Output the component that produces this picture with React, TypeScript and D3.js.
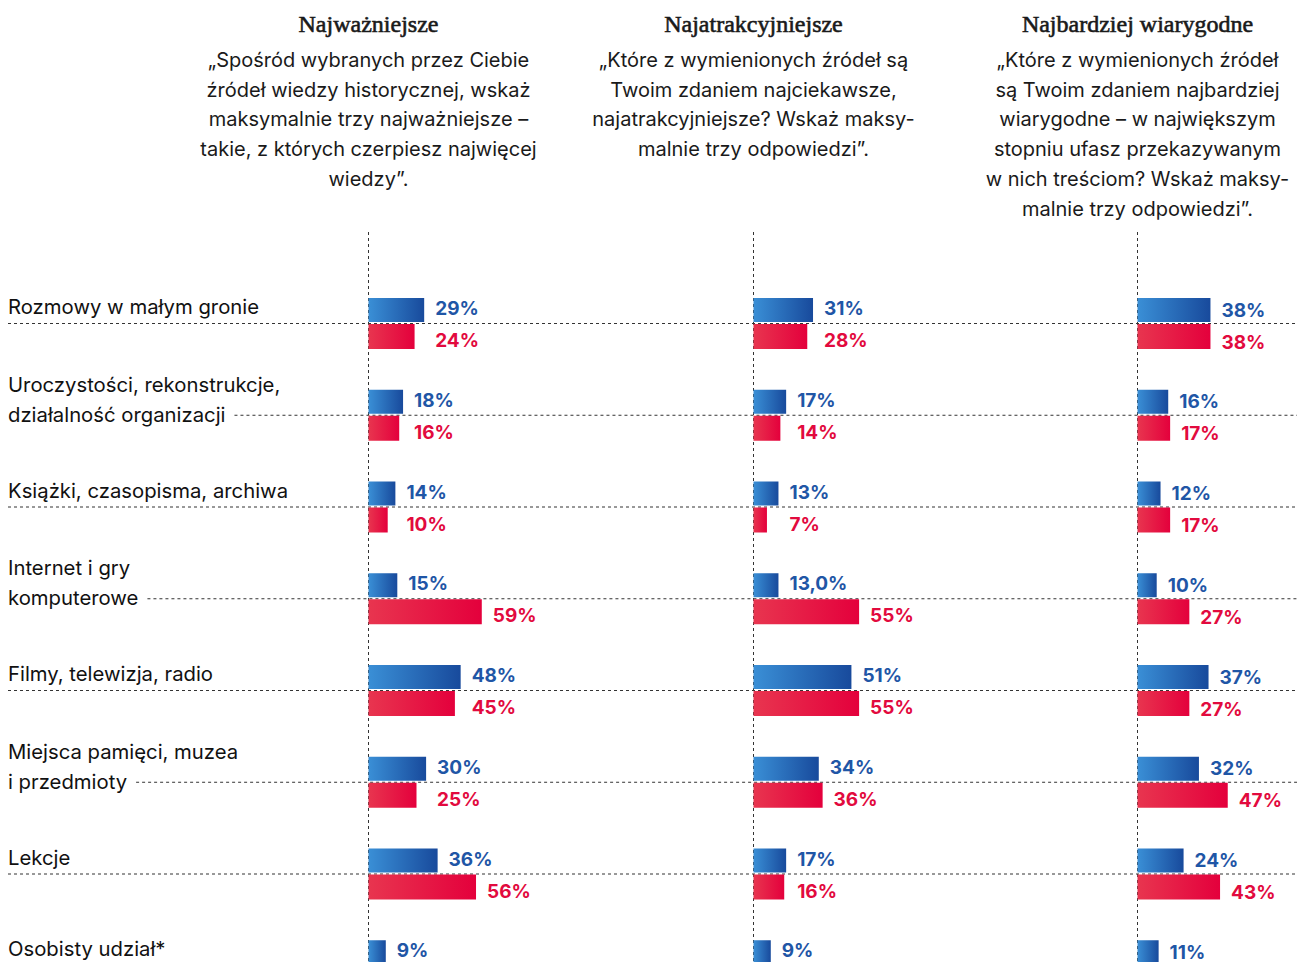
import React, { useEffect, useRef } from "react";
import * as d3 from "d3";

const categories: string[][] = [
  ["Rozmowy w małym gronie"],
  ["Uroczystości, rekonstrukcje,", "działalność organizacji"],
  ["Książki, czasopisma, archiwa"],
  ["Internet i gry", "komputerowe"],
  ["Filmy, telewizja, radio"],
  ["Miejsca pamięci, muzea", "i przedmioty"],
  ["Lekcje"],
  ["Osobisty udział*"],
];

const panelTitles = ["Najważniejsze", "Najatrakcyjniejsze", "Najbardziej wiarygodne"];

const panelQuestions: string[][] = [
  [
    "„Spośród wybranych przez Ciebie",
    "źródeł wiedzy historycznej, wskaż",
    "maksymalnie trzy najważniejsze –",
    "takie, z których czerpiesz najwięcej",
    "wiedzy”.",
  ],
  [
    "„Które z wymienionych źródeł są",
    "Twoim zdaniem najciekawsze,",
    "najatrakcyjniejsze? Wskaż maksy-",
    "malnie trzy odpowiedzi”.",
  ],
  [
    "„Które z wymienionych źródeł",
    "są Twoim zdaniem najbardziej",
    "wiarygodne – w największym",
    "stopniu ufasz przekazywanym",
    "w nich treściom? Wskaż maksy-",
    "malnie trzy odpowiedzi”.",
  ],
];

const blueImportant = [29, 18, 14, 15, 48, 30, 36, 9];
const redImportant: (number | null)[] = [24, 16, 10, 59, 45, 25, 56, null];
const blueAttractive = [31, 17, 13, 13.0, 51, 34, 17, 9];
const redAttractive: (number | null)[] = [28, 14, 7, 55, 55, 36, 16, null];
const blueCredible = [38, 16, 12, 10, 37, 32, 24, 11];
const redCredible: (number | null)[] = [38, 17, 17, 27, 27, 47, 43, null];

// label text overrides: "panel-row" -> text
const blueLabelOverrides: Record<string, string> = { "1-3": "13,0%" };

const W = 1297;
const H = 962;

export default function App() {
  const ref = useRef<SVGSVGElement>(null);

  useEffect(() => {
    const svg = d3.select(ref.current!);
    svg.selectAll("*").remove();

    const panels = [
      { blue: blueImportant, red: redImportant, axis: 368.5, align: true, dy: 0 },
      { blue: blueAttractive, red: redAttractive, axis: 753.5, align: true, dy: 0 },
      { blue: blueCredible, red: redCredible, axis: 1137.5, align: false, dy: 1.5 },
    ];

    const x = d3.scaleLinear().domain([0, 100]).range([0, 192]);
    const y = d3
      .scaleLinear()
      .domain([0, categories.length - 1])
      .range([323, 323 + 91.75 * (categories.length - 1)]);

    const defs = svg.append("defs");
    const bg = defs.append("linearGradient").attr("id", "gBlue").attr("x1", "0").attr("x2", "1").attr("y1", "0").attr("y2", "0");
    bg.append("stop").attr("offset", "0").attr("stop-color", "#3a8fd6");
    bg.append("stop").attr("offset", "1").attr("stop-color", "#184a9c");
    const rg = defs.append("linearGradient").attr("id", "gRed").attr("x1", "0").attr("x2", "1").attr("y1", "0").attr("y2", "0");
    rg.append("stop").attr("offset", "0").attr("stop-color", "#e8354f");
    rg.append("stop").attr("offset", "1").attr("stop-color", "#e4003c");

    const sans = "Inter, 'Noto Sans', sans-serif";
    const blueText = "#1f56a6";
    const redText = "#e20a3e";

    // headers
    panels.forEach((p, pi) => {
      svg
        .append("text")
        .attr("x", p.axis)
        .attr("y", 32)
        .attr("text-anchor", "middle")
        .attr("font-family", "'Liberation Serif', 'DejaVu Serif', serif")
        .attr("font-size", 24)
        .attr("fill", "#1a1a1a")
        .attr("stroke", "#1a1a1a")
        .attr("stroke-width", 0.6)
        .text(panelTitles[pi]);
      panelQuestions[pi].forEach((line, li) => {
        svg
          .append("text")
          .attr("x", p.axis)
          .attr("y", 67 + li * 29.7)
          .attr("text-anchor", "middle")
          .attr("font-family", sans)
          .attr("font-size", 20)
          .attr("fill", "#1a1a1a")
          .text(line);
      });
      svg
        .append("line")
        .attr("x1", p.axis)
        .attr("x2", p.axis)
        .attr("y1", 232)
        .attr("y2", H)
        .attr("stroke", "#333")
        .attr("stroke-width", 1)
        .attr("stroke-dasharray", "3,3");
    });

    // category labels + horizontal dashed lines
    categories.forEach((lines, i) => {
      const ly = y(i);
      let lineStart = 8;
      if (lines.length === 1) {
        svg
          .append("text")
          .attr("x", 8)
          .attr("y", ly - 9)
          .attr("font-family", sans)
          .attr("font-size", 20.3)
          .attr("fill", "#111")
          .text(lines[0]);
      } else {
        lines.forEach((t, li) => {
          const node = svg
            .append("text")
            .attr("x", 8)
            .attr("y", ly + 7 - (lines.length - 1 - li) * 30)
            .attr("font-family", sans)
            .attr("font-size", 20.3)
            .attr("fill", "#111")
            .text(t);
          if (li === lines.length - 1) {
            const len = (node.node() as SVGTextElement).getComputedTextLength();
            lineStart = 8 + len + 9;
          }
        });
      }
      svg
        .append("line")
        .attr("x1", lineStart)
        .attr("x2", W)
        .attr("y1", ly + 0.5)
        .attr("y2", ly + 0.5)
        .attr("stroke", "#333")
        .attr("stroke-width", 1)
        .attr("stroke-dasharray", "3,3");
    });

    // bars
    panels.forEach((p, pi) => {
      const g = svg.append("g");
      categories.forEach((_, i) => {
        const ly = y(i);
        const b = p.blue[i];
        const r = p.red[i];
        const bEnd = p.axis + x(b);
        g.append("rect")
          .attr("x", p.axis)
          .attr("y", ly - 25)
          .attr("width", x(b))
          .attr("height", 24)
          .attr("fill", "url(#gBlue)");
        g.append("text")
          .attr("x", bEnd + 11)
          .attr("y", ly - 14.5 + p.dy)
          .attr("dy", "0.35em")
          .attr("font-family", sans)
          .attr("font-weight", 700)
          .attr("font-size", 19)
          .attr("fill", blueText)
          .text(blueLabelOverrides[`${pi}-${i}`] ?? `${b}%`);
        if (r !== null) {
          const rEnd = p.axis + x(r);
          const lx = (p.align && b >= r ? bEnd : rEnd) + 11;
          g.append("rect")
            .attr("x", p.axis)
            .attr("y", ly + 1)
            .attr("width", x(r))
            .attr("height", 25)
            .attr("fill", "url(#gRed)");
          g.append("text")
            .attr("x", lx)
            .attr("y", ly + 17.5 + p.dy)
            .attr("dy", "0.35em")
            .attr("font-family", sans)
            .attr("font-weight", 700)
            .attr("font-size", 19)
            .attr("fill", redText)
            .text(`${r}%`);
        }
      });
    });
  }, []);

  return (
    <svg
      ref={ref}
      width={W}
      height={H}
      style={{ position: "absolute", left: 0, top: 0, background: "#fff" }}
    />
  );
}
